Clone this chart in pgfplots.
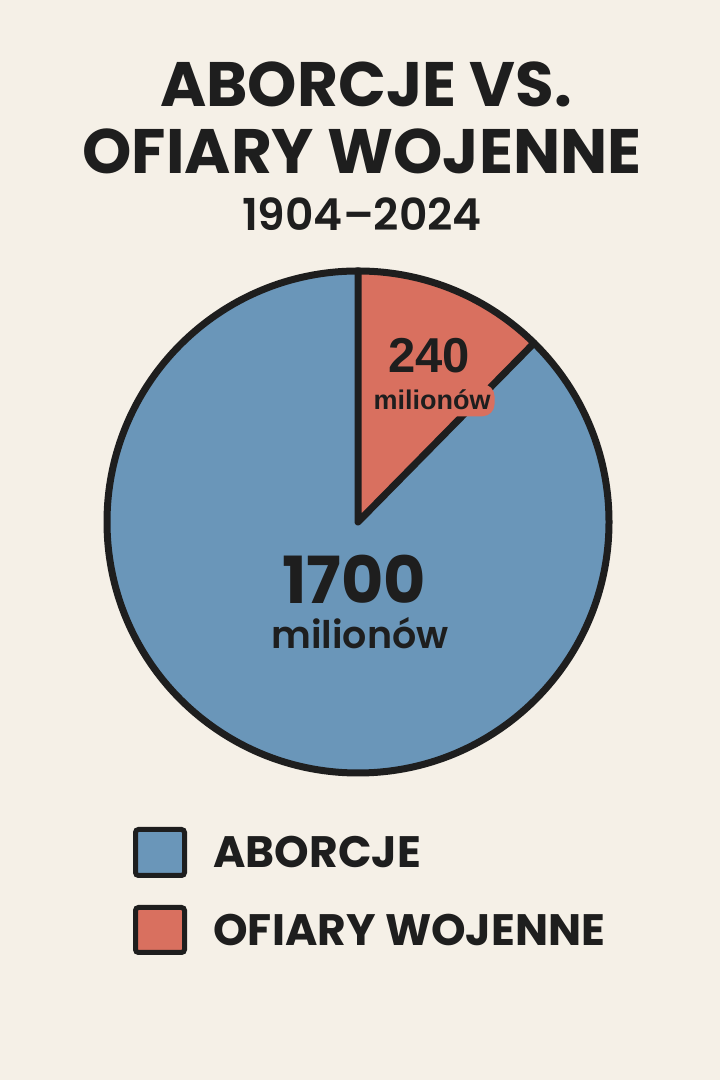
\documentclass[border=0pt]{standalone}
\usepackage{pgfplots}
\pgfplotsset{compat=1.18}
\usepackage{pgfplotstable}
\usepackage{fontspec}
\setmainfont{Poppins}
\newfontfamily\pmed{Poppins SemiBold}
\newfontfamily\arial{Liberation Sans}

\definecolor{bg}{HTML}{F5F0E7}
\definecolor{blu}{HTML}{6A96B9}
\definecolor{czer}{HTML}{D9705F}
\definecolor{ink}{HTML}{1E1E1E}

\pgfplotstableread{
kat value
aborcje 1700
wojna 240
}\dane

\begin{document}
\begin{tikzpicture}
\pgfplotstablegetelem{0}{value}\of\dane \let\vA\pgfplotsretval
\pgfplotstablegetelem{1}{value}\of\dane \let\vB\pgfplotsretval
\pgfmathsetmacro\udzial{\vB/(\vA+\vB)}
\pgfmathsetmacro\endB{90-360*\udzial}
\begin{axis}[
  x=0.5pt,y=0.5pt,
  xmin=0,xmax=720,ymin=0,ymax=1080,
  hide axis,clip=false,
]
  % tlo
  \fill[bg] (axis cs:0,0) rectangle (axis cs:720,1080);

  % wycinki
  \fill[blu] (axis cs:358,558) -- (axis cs:{358+251*cos(\endB)},{558+251*sin(\endB)})
    arc[start angle=\endB,end angle=-270,radius=125.5pt] -- cycle;
  \fill[czer] (axis cs:358,558) -- (axis cs:358,809)
    arc[start angle=90,end angle=\endB,radius=125.5pt] -- cycle;
  \draw[ink,line width=3.5pt] (axis cs:358,558) circle[radius=125.5pt];
  \draw[ink,line width=3.5pt,line join=round,line cap=round]
    (axis cs:358,809) -- (axis cs:358,558) -- (axis cs:{358+251*cos(\endB)},{558+251*sin(\endB)});

  % tytul
  \node[ink,anchor=base,font=\bfseries\fontsize{31.4}{33}\selectfont] at (axis cs:366,973) {ABORCJE VS.};
  \node[ink,anchor=base,font=\bfseries\fontsize{31.4}{33}\selectfont] at (axis cs:362,906) {OFIARY WOJENNE};
  \node[ink,anchor=base,font=\pmed\fontsize{22}{24}\selectfont] at (axis cs:362,849) {1904–2024};

  % etykiety
  \node[ink,anchor=base,font=\arial\bfseries\fontsize{24.5}{26}\selectfont] at (axis cs:429,707) {240};
  \node[ink,anchor=base,fill=czer,rounded corners=6pt,inner xsep=2pt,inner ysep=3pt,
    font=\arial\bfseries\fontsize{13.5}{15}\selectfont] at (axis cs:432,670) {milionów};
  \node[ink,anchor=base,inner sep=0pt,font=\bfseries\fontsize{32.5}{34}\selectfont] at (axis cs:354,476) {1700};
  \node[ink,anchor=base,inner sep=0pt,font=\pmed\fontsize{19}{21}\selectfont] at (axis cs:360,431) {milionów};

  % legenda
  \draw[ink,fill=blu,line width=2.5pt,rounded corners=1.5pt] (axis cs:135.5,250.5) rectangle (axis cs:184.5,204.5);
  \draw[ink,fill=czer,line width=2.5pt,rounded corners=1.5pt] (axis cs:135.5,172.5) rectangle (axis cs:184.5,127.5);
  \node[ink,anchor=base west,inner sep=0pt,font=\bfseries\fontsize{22}{24}\selectfont] at (axis cs:213,212) {ABORCJE};
  \node[ink,anchor=base west,inner sep=0pt,font=\bfseries\fontsize{22}{24}\selectfont] at (axis cs:213,134) {OFIARY WOJENNE};
\end{axis}
\end{tikzpicture}
\end{document}
